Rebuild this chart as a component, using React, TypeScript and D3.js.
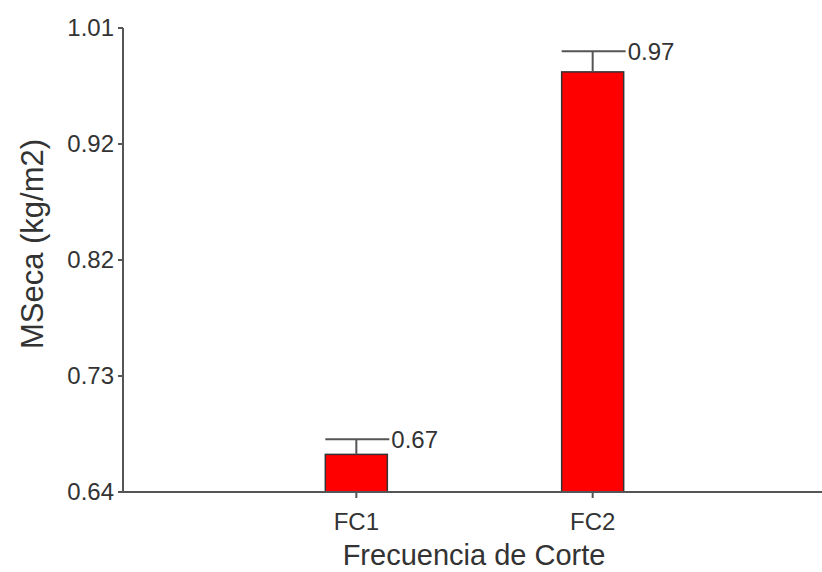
import React from 'react'
import * as d3 from 'd3'

const categories = ['FC1', 'FC2']
const means = [0.67, 0.975]
const errors = [0.012, 0.0165]
const valueLabels = ['0.67', '0.97']
const yTicks = [0.64, 0.7325, 0.825, 0.9175, 1.01]
const yTickLabels = ['0.64', '0.73', '0.82', '0.92', '1.01']

const width = 822
const height = 572
const margin = { top: 28, right: 0, bottom: 80, left: 123 }

const textColor = '#333'
const axisColor = '#555'
const font = 'Liberation Sans, Arial, sans-serif'

export default function App() {
  const x = d3
    .scalePoint<string>()
    .domain(categories)
    .range([120, 829])
    .padding(1)

  const y = d3
    .scaleLinear()
    .domain([0.64, 1.01])
    .range([height - margin.bottom, margin.top])

  const barWidth = 62
  const y0 = y(0.64)

  return (
    <svg
      width={width}
      height={height}
      style={{ position: 'absolute', left: 0, top: 0, background: '#fff' }}
      fontFamily={font}
    >
      {/* bars */}
      {categories.map((c, i) => {
        const cx = x(c) || 0
        const top = y(means[i])
        const errTop = y(means[i] + errors[i])
        return (
          <g key={c}>
            <rect
              x={cx - barWidth / 2}
              y={top}
              width={barWidth}
              height={y0 - top}
              fill="#ff0000"
              stroke="#333"
              strokeWidth={1.5}
            />
            <line x1={cx} x2={cx} y1={top} y2={errTop} stroke={axisColor} strokeWidth={2} />
            <line
              x1={cx - barWidth / 2}
              x2={cx + barWidth / 2 + 2}
              y1={errTop}
              y2={errTop}
              stroke={axisColor}
              strokeWidth={2}
            />
            <text
              x={cx + barWidth / 2 + 4}
              y={errTop}
              dy="0.35em"
              fontSize={24}
              fill={textColor}
            >
              {valueLabels[i]}
            </text>
          </g>
        )
      })}

      {/* y axis */}
      <line x1={margin.left} x2={margin.left} y1={margin.top} y2={y0} stroke={axisColor} strokeWidth={2} />
      {yTicks.map((t, i) => (
        <g key={t}>
          <line x1={margin.left - 5} x2={margin.left} y1={y(t)} y2={y(t)} stroke={axisColor} strokeWidth={2} />
          <text
            x={margin.left - 9}
            y={y(t)}
            dy="0.35em"
            textAnchor="end"
            fontSize={24}
            fill={textColor}
          >
            {yTickLabels[i]}
          </text>
        </g>
      ))}

      {/* x axis */}
      <line x1={margin.left} x2={width} y1={y0} y2={y0} stroke={axisColor} strokeWidth={2} />
      {categories.map((c) => (
        <g key={c}>
          <line x1={x(c)} x2={x(c)} y1={y0} y2={y0 + 6} stroke={axisColor} strokeWidth={2} />
          <text x={x(c)} y={y0 + 38} textAnchor="middle" fontSize={24} fill={textColor}>
            {c}
          </text>
        </g>
      ))}

      <text x={474} y={565} textAnchor="middle" fontSize={29} fill={textColor}>
        Frecuencia de Corte
      </text>
      <text
        transform={`translate(43, 244) rotate(-90)`}
        textAnchor="middle"
        fontSize={31}
        fill={textColor}
      >
        MSeca (kg/m2)
      </text>
    </svg>
  )
}
